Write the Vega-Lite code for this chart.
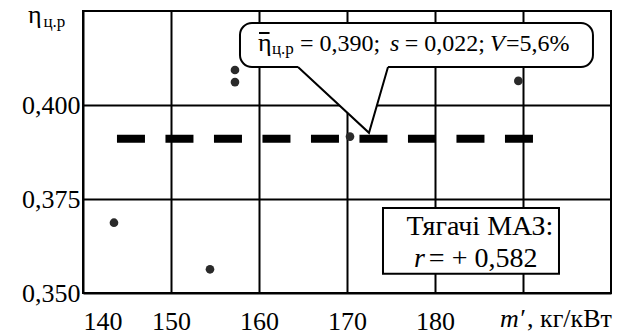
{
  "$schema": "https://vega.github.io/schema/vega-lite/v6.json",
  "width": 528,
  "height": 282,
  "autosize": {"type": "none"},
  "padding": {"left": 83, "top": 11, "right": 19, "bottom": 43},
  "background": "white",
  "config": {
    "view": {"stroke": "black", "strokeWidth": 2},
    "axis": {"domain": false, "ticks": false, "grid": true, "gridColor": "black", "gridWidth": 2, "gridOpacity": 1, "labelFont": "Liberation Serif, Times New Roman, serif", "labelFontSize": 26, "labelColor": "black"}
  },
  "datasets": {
    "points": [
      {"m": 143.52, "eta": 0.3687},
      {"m": 154.43, "eta": 0.3563},
      {"m": 157.27, "eta": 0.4093},
      {"m": 157.27, "eta": 0.4061},
      {"m": 170.34, "eta": 0.3916},
      {"m": 189.47, "eta": 0.4064}
    ],
    "mean": [{"m": 143.86, "eta": 0.391}, {"m": 191.14, "eta": 0.391}],
    "pointer": [
      {"m": 164.43, "eta": 0.4101, "eta2": 0.4107},
      {"m": 172.5, "eta": 0.3926, "eta2": 0.4107},
      {"m": 174.66, "eta": 0.4101, "eta2": 0.4107}
    ],
    "one": [{"a": 0}]
  },
  "layer": [
    {
      "data": {"name": "mean"},
      "mark": {"type": "line", "color": "black", "strokeWidth": 8, "strokeDash": [28, 20.5], "strokeCap": "butt"},
      "encoding": {
        "x": {"field": "m", "type": "quantitative", "scale": {"domain": [140, 200], "nice": false, "zero": false}, "axis": {"values": [140, 150, 160, 170, 180, 190], "labelExpr": "datum.value == 190 ? '' : datum.label", "labelPadding": 15, "title": null}},
        "y": {"field": "eta", "type": "quantitative", "scale": {"domain": [0.35, 0.425], "nice": false, "zero": false}, "axis": {"values": [0.35, 0.375, 0.4], "labelExpr": "replace(format(datum.value, '.3f'), '.', ',')", "labelPadding": 3, "title": null}}
      }
    },
    {"data": {"name": "points"}, "mark": {"type": "circle", "size": 75, "color": "#2a2a2a", "opacity": 1},
     "encoding": {"x": {"field": "m", "type": "quantitative"}, "y": {"field": "eta", "type": "quantitative"}}},
    {"data": {"name": "one"}, "mark": {"type": "rect", "fill": "white", "stroke": "black", "strokeWidth": 2, "cornerRadius": 12},
     "encoding": {"x": {"datum": 157.84, "type": "quantitative"}, "x2": {"datum": 197.95}, "y": {"datum": 0.4218, "type": "quantitative"}, "y2": {"datum": 0.4101}}},
    {"data": {"name": "one"}, "mark": {"type": "rect", "fill": "white", "stroke": "black", "strokeWidth": 2},
     "encoding": {"x": {"datum": 174.09, "type": "quantitative"}, "x2": {"datum": 194.09}, "y": {"datum": 0.3726, "type": "quantitative"}, "y2": {"datum": 0.3551}}},
    {"data": {"name": "pointer"}, "mark": {"type": "area", "color": "white", "opacity": 1},
     "encoding": {"x": {"field": "m", "type": "quantitative"}, "y": {"field": "eta", "type": "quantitative"}, "y2": {"field": "eta2"}}},
    {"data": {"name": "pointer"}, "mark": {"type": "line", "color": "black", "strokeWidth": 2},
     "encoding": {"x": {"field": "m", "type": "quantitative"}, "y": {"field": "eta", "type": "quantitative"}}},
    {"data": {"name": "one"}, "mark": {"type": "rule", "color": "black", "strokeWidth": 2},
     "encoding": {"x": {"datum": 160.0, "type": "quantitative"}, "x2": {"datum": 161.2}, "y": {"datum": 0.41915, "type": "quantitative"}}},
    {"data": {"name": "one"}, "mark": {"type": "text", "font": "Liberation Serif, Times New Roman, serif", "color": "black", "align": "left", "baseline": "alphabetic", "text": "η", "fontSize": 26}, "encoding": {"x": {"datum": 159.886, "type": "quantitative"}, "y": {"datum": 0.41436, "type": "quantitative"}}},
    {"data": {"name": "one"}, "mark": {"type": "text", "font": "Liberation Serif, Times New Roman, serif", "color": "black", "align": "left", "baseline": "alphabetic", "text": "ц.р", "fontSize": 17}, "encoding": {"x": {"datum": 161.477, "type": "quantitative"}, "y": {"datum": 0.41356, "type": "quantitative"}}},
    {"data": {"name": "one"}, "mark": {"type": "text", "font": "Liberation Serif, Times New Roman, serif", "color": "black", "align": "left", "baseline": "alphabetic", "text": "= 0,390;", "fontSize": 24}, "encoding": {"x": {"datum": 164.66, "type": "quantitative"}, "y": {"datum": 0.41436, "type": "quantitative"}}},
    {"data": {"name": "one"}, "mark": {"type": "text", "font": "Liberation Serif, Times New Roman, serif", "color": "black", "align": "left", "baseline": "alphabetic", "text": "s", "fontSize": 24, "fontStyle": "italic"}, "encoding": {"x": {"datum": 174.886, "type": "quantitative"}, "y": {"datum": 0.41436, "type": "quantitative"}}},
    {"data": {"name": "one"}, "mark": {"type": "text", "font": "Liberation Serif, Times New Roman, serif", "color": "black", "align": "left", "baseline": "alphabetic", "text": "= 0,022;", "fontSize": 24}, "encoding": {"x": {"datum": 176.55, "type": "quantitative"}, "y": {"datum": 0.41436, "type": "quantitative"}}},
    {"data": {"name": "one"}, "mark": {"type": "text", "font": "Liberation Serif, Times New Roman, serif", "color": "black", "align": "left", "baseline": "alphabetic", "text": "V", "fontSize": 24, "fontStyle": "italic"}, "encoding": {"x": {"datum": 186.25, "type": "quantitative"}, "y": {"datum": 0.41436, "type": "quantitative"}}},
    {"data": {"name": "one"}, "mark": {"type": "text", "font": "Liberation Serif, Times New Roman, serif", "color": "black", "align": "left", "baseline": "alphabetic", "text": "=5,6%", "fontSize": 24}, "encoding": {"x": {"datum": 188.07, "type": "quantitative"}, "y": {"datum": 0.41436, "type": "quantitative"}}},
    {"data": {"name": "one"}, "mark": {"type": "text", "font": "Liberation Serif, Times New Roman, serif", "color": "black", "align": "center", "baseline": "alphabetic", "text": "Тягачі МАЗ:", "fontSize": 28}, "encoding": {"x": {"datum": 185.11, "type": "quantitative"}, "y": {"datum": 0.36543, "type": "quantitative"}}},
    {"data": {"name": "one"}, "mark": {"type": "text", "font": "Liberation Serif, Times New Roman, serif", "color": "black", "align": "left", "baseline": "alphabetic", "text": "r", "fontSize": 28, "fontStyle": "italic"}, "encoding": {"x": {"datum": 177.6, "type": "quantitative"}, "y": {"datum": 0.35692, "type": "quantitative"}}},
    {"data": {"name": "one"}, "mark": {"type": "text", "font": "Liberation Serif, Times New Roman, serif", "color": "black", "align": "left", "baseline": "alphabetic", "text": "= + 0,582", "fontSize": 28}, "encoding": {"x": {"datum": 179.3, "type": "quantitative"}, "y": {"datum": 0.35692, "type": "quantitative"}}},
    {"data": {"name": "one"}, "mark": {"type": "text", "font": "Liberation Serif, Times New Roman, serif", "color": "black", "align": "left", "baseline": "alphabetic", "text": "η", "fontSize": 26}, "encoding": {"x": {"datum": 133.75, "type": "quantitative"}, "y": {"datum": 0.42181, "type": "quantitative"}}},
    {"data": {"name": "one"}, "mark": {"type": "text", "font": "Liberation Serif, Times New Roman, serif", "color": "black", "align": "left", "baseline": "alphabetic", "text": "ц.р", "fontSize": 17}, "encoding": {"x": {"datum": 135.5, "type": "quantitative"}, "y": {"datum": 0.42075, "type": "quantitative"}}},
    {"data": {"name": "one"}, "mark": {"type": "text", "font": "Liberation Serif, Times New Roman, serif", "color": "black", "align": "left", "baseline": "alphabetic", "text": "m′", "fontSize": 26, "fontStyle": "italic"}, "encoding": {"x": {"datum": 187.39, "type": "quantitative"}, "y": {"datum": 0.341, "type": "quantitative"}}},
    {"data": {"name": "one"}, "mark": {"type": "text", "font": "Liberation Serif, Times New Roman, serif", "color": "black", "align": "right", "baseline": "alphabetic", "text": ", кг/кВт", "fontSize": 26}, "encoding": {"x": {"datum": 200.1, "type": "quantitative"}, "y": {"datum": 0.341, "type": "quantitative"}}}
  ]
}
